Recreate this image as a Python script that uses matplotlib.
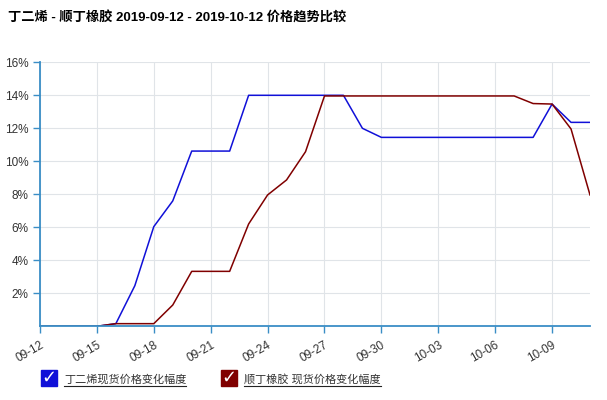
import matplotlib.pyplot as plt
import matplotlib.ticker as mticker
from matplotlib.patches import Rectangle
from matplotlib.lines import Line2D

plt.rcParams['font.family'] = ['Liberation Sans', 'Noto Sans CJK SC', 'DejaVu Sans']

# 2019-09-12 .. 2019-10-11, one value per day (percent)
dates = ['09-12', '09-13', '09-14', '09-15', '09-16', '09-17', '09-18', '09-19', '09-20', '09-21',
         '09-22', '09-23', '09-24', '09-25', '09-26', '09-27', '09-28', '09-29', '09-30', '10-01',
         '10-02', '10-03', '10-04', '10-05', '10-06', '10-07', '10-08', '10-09', '10-10', '10-11']
butadiene = [0, 0, 0, 0, 0.16, 2.46, 6.04, 7.6, 10.62, 10.62,
             10.62, 14.0, 14.0, 14.0, 14.0, 14.0, 14.0, 12.0, 11.45, 11.45,
             11.45, 11.45, 11.45, 11.45, 11.45, 11.45, 11.45, 13.47, 12.36, 12.36]
rubber = [0, 0, 0, 0, 0.16, 0.16, 0.16, 1.29, 3.33, 3.33,
          3.33, 6.2, 7.96, 8.87, 10.58, 13.96, 13.96, 13.96, 13.96, 13.96,
          13.96, 13.96, 13.96, 13.96, 13.96, 13.96, 13.5, 13.47, 11.96, 7.96]
series_names = ['丁二烯现货价格变化幅度', '顺丁橡胶 现货价格变化幅度']
series_colors = ['#1010d8', '#800000']

fig = plt.figure(figsize=(6.07, 4.0), dpi=100)
ax = fig.add_axes([40 / 607, 1 - 326.3 / 400, 550 / 607, 264 / 400])

x = list(range(len(dates)))
ax.plot(x, butadiene, color=series_colors[0], lw=1.1)
ax.plot(x, rubber, color=series_colors[1], lw=1.1)

ax.set_xlim(0, len(dates) - 1)
ax.set_ylim(0, 16)
ax.set_xticks(x[::3])
ax.set_xticklabels(dates[::3], rotation=30, ha='right', rotation_mode='anchor', fontsize=8.5, color='#333333')
ax.set_yticks([2, 4, 6, 8, 10, 12, 14, 16])
ax.yaxis.set_major_formatter(mticker.FuncFormatter(lambda v, p: f'{int(v)}%'))
ax.tick_params(axis='y', labelsize=8.5, labelcolor='#333333', color='#3a8ec6', length=5, width=1)
ax.tick_params(axis='x', color='#3a8ec6', length=5, width=1, pad=4)
ax.grid(True, color='#e0e4e8', lw=0.8)
ax.set_axisbelow(True)
for s in ['top', 'right']:
    ax.spines[s].set_visible(False)
for s in ['left', 'bottom']:
    ax.spines[s].set_color('#3a8ec6')
    ax.spines[s].set_linewidth(1.3)

fig.text(8 / 607, 1 - 18 / 400, '丁二烯 - 顺丁橡胶 2019-09-12 - 2019-10-12 价格趋势比较',
         fontsize=9.5, fontweight='bold', va='center', ha='left')

# legend with checkbox markers and underlined labels
box_x = [41, 221]
for bx, name, col in zip(box_x, series_names, series_colors):
    fig.patches.append(Rectangle((bx / 607, 1 - 386 / 400), 16 / 607, 16 / 400,
                                 transform=fig.transFigure, color=col))
    fig.text((bx + 8) / 607, 1 - 378 / 400, '✓', color='white', fontsize=13,
             ha='center', va='center', family='DejaVu Sans')
    t = fig.text((bx + 23) / 607, 1 - 379 / 400, name, fontsize=8, va='center', ha='left', color='#333333')
    fig.canvas.draw()
    bb = t.get_window_extent().transformed(fig.transFigure.inverted())
    fig.add_artist(Line2D([bb.x0, bb.x1], [1 - 386 / 400, 1 - 386 / 400], color='#222222', lw=0.8,
                          transform=fig.transFigure))

fig.savefig('out.png', dpi=100)
